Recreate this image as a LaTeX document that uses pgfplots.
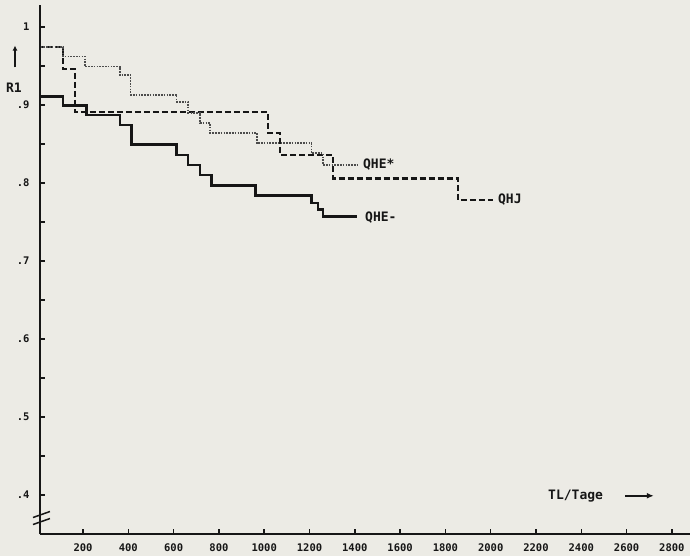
\documentclass[border=0pt]{standalone}
\usepackage{fontspec}
\setmainfont{DejaVu Sans Mono}
\usepackage{pgfplots}
\pgfplotsset{compat=1.18}
\usetikzlibrary{arrows.meta,backgrounds}
\definecolor{paper}{RGB}{236,235,229}
\definecolor{ink}{RGB}{22,22,22}
\newcommand{\tickfont}{\bfseries\fontsize{10.5}{10.5}\selectfont}
\newcommand{\labfont}{\bfseries\fontsize{13}{13}\selectfont}

\begin{document}
\begin{tikzpicture}[background rectangle/.style={fill=paper}, show background rectangle, inner frame sep=0pt]
\begin{axis}[
  scale only axis, width=650pt, height=529pt,
  xmin=10, xmax=2880, ymin=0.35, ymax=1.028,
  axis lines=left,
  x axis line style={-}, y axis line style={-},
  axis line style={line width=2pt, ink},
  tick align=inside, major tick length=5pt,
  tick style={line width=1.5pt, ink},
  xtick={200,400,...,2800},
  xticklabels={200,400,600,800,1000,1200,1400,1600,1800,2000,2200,2400,2600,2800},
  ytick={0.4,0.45,...,1.01},
  yticklabels={.4,,.5,,.6,,.7,,.8,,.9,,1},
  xticklabel style={font=\tickfont, text=ink, yshift=-6pt},
  yticklabel style={font=\tickfont, text=ink, xshift=-7pt},
  clip mode=individual,
]
% QHJ
\addplot[const plot, ink, line width=2.6pt, dash pattern=on 6pt off 3pt] coordinates {
  (0,0.974) (112,0.946) (165,0.891) (1017,0.864) (1070,0.836) (1303,0.806) (1856,0.778) (2010,0.778)};
% QHE*
\addplot[const plot, black!70, line width=1.7pt, dash pattern=on 1.6pt off 1.2pt] coordinates {
  (0,0.974) (112,0.962) (209,0.949) (364,0.938) (410,0.913) (613,0.904) (664,0.890) (717,0.877)
  (761,0.864) (967,0.851) (1209,0.838) (1260,0.823) (1412,0.823)};
% QHE-
\addplot[const plot, ink, line width=2.6pt] coordinates {
  (0,0.911) (112,0.899) (216,0.887) (363,0.874) (413,0.849) (614,0.836) (664,0.823) (717,0.810)
  (768,0.797) (962,0.784) (1209,0.774) (1238,0.766) (1260,0.757) (1408,0.757)};

\node[anchor=west, inner sep=0, font=\labfont, text=ink] at (axis cs:1436,0.823) {QHE*};
\node[anchor=west, inner sep=0, font=\labfont, text=ink] at (axis cs:1445,0.756) {QHE-};
\node[anchor=west, inner sep=0, font=\labfont, text=ink] at (axis cs:2032,0.778) {QHJ};
\node[anchor=west, inner sep=0, font=\labfont, text=ink] at (axis cs:2253,0.399) {TL/Tage};
\draw[ink, line width=2pt, -{Latex[length=7pt,width=6pt]}] (axis cs:2594,0.399) -- (axis cs:2720,0.399);
\node[inner sep=0, font=\labfont, text=ink] at ([xshift=-26pt]axis cs:10,0.922) {R1};
\draw[ink, line width=2pt, -{Latex[length=5pt,width=5pt]}] ([xshift=-25pt]axis cs:10,0.948) -- ([xshift=-25pt]axis cs:10,0.976);
% axis break
\draw[ink, line width=1.5pt] ([xshift=-7pt,yshift=-3pt]axis cs:10,0.375) -- ([xshift=10pt,yshift=3pt]axis cs:10,0.375);
\draw[ink, line width=1.5pt] ([xshift=-7pt,yshift=-3pt]axis cs:10,0.366) -- ([xshift=10pt,yshift=3pt]axis cs:10,0.366);
\coordinate (bl) at (rel axis cs:0,0);
\coordinate (tr) at (rel axis cs:1,1);
\end{axis}
\pgfresetboundingbox
\path ([xshift=-40pt,yshift=-22pt]bl) rectangle ([yshift=5pt]tr);
\end{tikzpicture}
\end{document}
